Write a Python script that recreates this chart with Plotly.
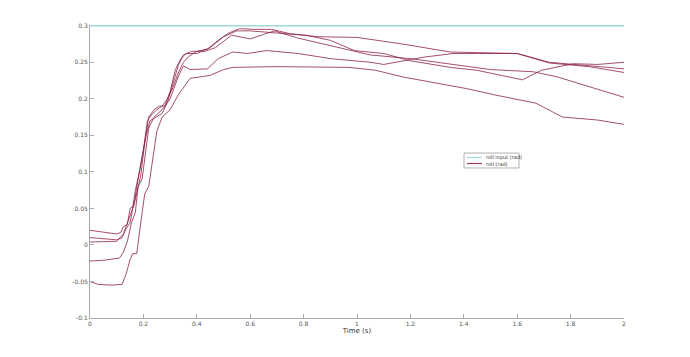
import plotly.graph_objects as go

# roll input (rad)
t_input = [0.0, 2.0]
v_input = [0.3, 0.3]

# roll (rad) runs
tA = [0, 0.05, 0.1, 0.115, 0.125, 0.14, 0.15, 0.16, 0.17, 0.185, 0.2, 0.215, 0.23, 0.25, 0.27, 0.29, 0.31, 0.33, 0.35, 0.37, 0.4, 0.44, 0.48, 0.52, 0.56, 0.62, 0.68, 0.75, 0.85, 1.0, 1.17, 1.35, 1.55, 1.6, 1.72, 1.87, 2.0]
vA = [0.02, 0.018, 0.015, 0.017, 0.025, 0.028, 0.05, 0.052, 0.075, 0.1, 0.13, 0.17, 0.178, 0.185, 0.19, 0.2, 0.215, 0.235, 0.25, 0.258, 0.265, 0.268, 0.28, 0.29, 0.296, 0.295, 0.295, 0.289, 0.285, 0.284, 0.275, 0.264, 0.262, 0.262, 0.25, 0.245, 0.241]

tB = [0, 0.05, 0.1, 0.12, 0.135, 0.15, 0.16, 0.175, 0.19, 0.205, 0.22, 0.24, 0.26, 0.28, 0.3, 0.32, 0.34, 0.36, 0.4, 0.45, 0.5, 0.55, 0.6, 0.7, 0.81, 0.9, 0.99, 1.1, 1.2, 1.35, 1.45, 1.54, 1.62, 1.69, 1.81, 1.9, 2.0]
vB = [0.01, 0.008, 0.007, 0.01, 0.022, 0.03, 0.05, 0.07, 0.095, 0.14, 0.175, 0.185, 0.19, 0.19, 0.21, 0.24, 0.255, 0.262, 0.262, 0.27, 0.285, 0.293, 0.293, 0.29, 0.287, 0.28, 0.266, 0.262, 0.252, 0.243, 0.239, 0.232, 0.226, 0.239, 0.248, 0.247, 0.25]

tC = [0, 0.05, 0.1, 0.125, 0.14, 0.155, 0.165, 0.18, 0.195, 0.21, 0.225, 0.25, 0.27, 0.29, 0.31, 0.33, 0.35, 0.38, 0.43, 0.47, 0.53, 0.6, 0.65, 0.69, 0.78, 0.93, 1.05, 1.2, 1.35, 1.5, 1.66, 1.75, 1.875, 2.0]
vC = [0.004, 0.004, 0.005, 0.015, 0.03, 0.045, 0.055, 0.09, 0.12, 0.15, 0.17, 0.175, 0.18, 0.195, 0.22, 0.245, 0.26, 0.265, 0.265, 0.27, 0.287, 0.282, 0.288, 0.293, 0.283, 0.27, 0.26, 0.255, 0.247, 0.24, 0.237, 0.23, 0.216, 0.202]

tD = [0, 0.05, 0.11, 0.125, 0.14, 0.155, 0.17, 0.18, 0.195, 0.205, 0.22, 0.24, 0.27, 0.3, 0.33, 0.35, 0.375, 0.44, 0.48, 0.535, 0.59, 0.66, 0.78, 0.9, 1.05, 1.1, 1.25, 1.36, 1.6, 1.72, 1.87, 2.0]
vD = [-0.022, -0.021, -0.018, -0.01, 0.005, 0.03, 0.045, 0.08, 0.09, 0.12, 0.16, 0.175, 0.185, 0.2, 0.23, 0.245, 0.24, 0.241, 0.255, 0.264, 0.262, 0.266, 0.262, 0.255, 0.25, 0.247, 0.257, 0.262, 0.262, 0.249, 0.244, 0.236]

tE = [0, 0.03, 0.08, 0.12, 0.135, 0.15, 0.16, 0.175, 0.19, 0.205, 0.22, 0.235, 0.25, 0.27, 0.3, 0.33, 0.36, 0.375, 0.45, 0.5, 0.535, 0.7, 0.97, 1.07, 1.17, 1.41, 1.52, 1.67, 1.77, 1.9, 2.0]
vE = [-0.05, -0.054, -0.055, -0.054, -0.04, -0.02, -0.012, -0.012, 0.03, 0.07, 0.08, 0.12, 0.155, 0.175, 0.185, 0.205, 0.22, 0.228, 0.232, 0.24, 0.243, 0.244, 0.243, 0.239, 0.23, 0.214, 0.205, 0.194, 0.175, 0.171, 0.165]

x_ticks = [0, 0.2, 0.4, 0.6, 0.8, 1, 1.2, 1.4, 1.6, 1.8, 2]
x_tick_labels = ["0", "0.2", "0.4", "0.6", "0.8", "1", "1.2", "1.4", "1.6", "1.8", "2"]
y_ticks = [-0.1, -0.05, 0, 0.05, 0.1, 0.15, 0.2, 0.25, 0.3]
y_tick_labels = ["-0.1", "-0.05", "0", "0.05", "0.1", "0.15", "0.2", "0.25", "0.3"]
legend_labels = ["roll input (rad)", "roll (rad)"]

roll_color = "rgba(135,25,60,0.85)"
input_color = "#9fd8e3"
font_fam = "DejaVu Sans"

fig = go.Figure()
fig.add_trace(go.Scatter(x=t_input, y=v_input, mode="lines", name=legend_labels[0],
                         showlegend=False, line=dict(color=input_color, width=1.3)))
runs = [(tA, vA), (tB, vB), (tC, vC), (tD, vD), (tE, vE)]
for tt, vv in runs:
    fig.add_trace(go.Scatter(x=tt, y=vv, mode="lines", name=legend_labels[1],
                             showlegend=False, line=dict(color=roll_color, width=0.9)))

axis_common = dict(showgrid=False, zeroline=False, showline=True, linecolor="#aaaaaa",
                   linewidth=1, ticks="inside", ticklen=4, tickcolor="#aaaaaa",
                   tickfont=dict(family=font_fam, size=6, color="#555555"))
fig.update_xaxes(range=[0, 2], tickvals=x_ticks, ticktext=x_tick_labels,
                 title=dict(text="Time (s)", font=dict(family=font_fam, size=7, color="#333333"), standoff=1),
                 **axis_common)
fig.update_yaxes(range=[-0.1, 0.301], tickvals=y_ticks, ticktext=y_tick_labels, **axis_common)

# compact MATLAB-style legend drawn in paper coordinates
box = dict(x0=0.7004, x1=0.8034, y0=0.512, y1=0.563)
fig.add_shape(type="rect", xref="paper", yref="paper", line=dict(color="#b0b0b0", width=1),
              fillcolor="white", **box)
rows_y = [0.5478, 0.5273]
row_colors = [input_color, roll_color]
for yy, col, lab in zip(rows_y, row_colors, legend_labels):
    fig.add_shape(type="line", xref="paper", yref="paper", x0=0.706, x1=0.734, y0=yy, y1=yy,
                  line=dict(color=col, width=1.2))
    fig.add_annotation(x=0.738, y=yy, xref="paper", yref="paper", text=lab, showarrow=False,
                       xanchor="left", yanchor="middle", font=dict(family=font_fam, size=5, color="#333333"))

fig.update_layout(
    width=682, height=349,
    margin=dict(l=82, r=66, t=17, b=39),
    paper_bgcolor="white", plot_bgcolor="white",
    showlegend=False,
)

fig.write_html("out.html")
